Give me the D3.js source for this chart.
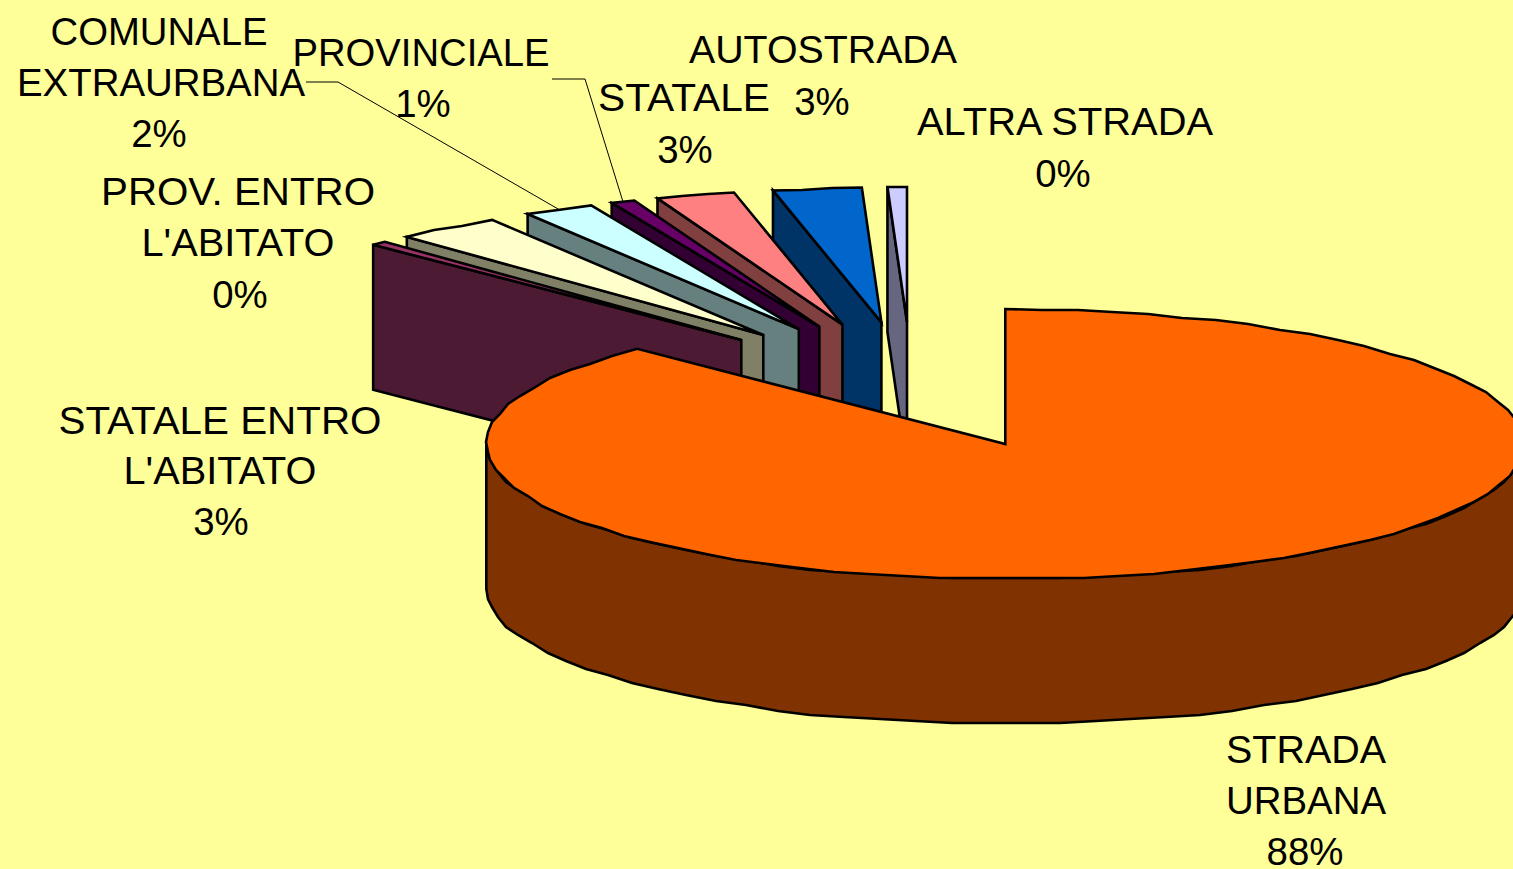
<!DOCTYPE html>
<html>
<head>
<meta charset="utf-8">
<script src="https://cdnjs.cloudflare.com/ajax/libs/d3/7.8.5/d3.min.js"></script>
<style>
  html, body { margin: 0; padding: 0; background: #FFFF99; overflow: hidden; }
  svg { display: block; }
  text { font-family: "Liberation Sans", Arial, sans-serif; font-size: 38.4px; fill: #000; text-anchor: middle; }
</style>
</head>
<body>
<svg id="chart"></svg>
<script>
// road types, clockwise from 12 o'clock
var categories = ['STRADA URBANA', "PROV. ENTRO L'ABITATO", "STATALE ENTRO L'ABITATO", 'COMUNALE EXTRAURBANA',
  'PROVINCIALE', 'STATALE', 'AUTOSTRADA', 'ALTRA STRADA']
var values = [87.45, 0.5, 3.3, 2.2, 0.75, 2.45, 2.75, 0.6]
var percentLabels = ['88%', '0%', '3%', '2%', '1%', '3%', '3%', '0%']
var topColors = ['#FF6600', '#993366', '#FFFFCC', '#CCFFFF', '#660066', '#FF8080', '#0066CC', '#CCCCFF']
var sideColors = ['#803300', '#4D1A33', '#808066', '#668080', '#330033', '#804040', '#003366', '#666680']

// label layout: one entry per line, [text, centre x, centre y, width or 0 for natural]
var labelLines = [
  ['COMUNALE', 159, 32, 217], ['EXTRAURBANA', 161, 83, 0], [percentLabels[3], 159, 134, 0],
  ['PROVINCIALE', 421, 53, 257], [percentLabels[4], 423, 104, 0],
  ['AUTOSTRADA', 823, 50, 268], [percentLabels[6], 822, 102, 0],
  ['STATALE', 684, 98, 172], [percentLabels[5], 685, 150, 0],
  ['ALTRA STRADA', 1065, 122, 296], [percentLabels[7], 1063, 174, 0],
  ['PROV. ENTRO', 238, 192, 274], ["L'ABITATO", 238, 243, 193], [percentLabels[1], 240, 295, 0],
  ['STATALE ENTRO', 220, 421, 323], ["L'ABITATO", 220, 471, 193], [percentLabels[2], 221, 522, 0],
  ['STRADA', 1306, 750, 160], ['URBANA', 1306, 801, 160], [percentLabels[0], 1305, 852, 0]
]
// leader lines: slice index plus the start and elbow of the line
var leaders = [
  {slice: 3, from: [306, 82], elbow: [338, 82]},
  {slice: 4, from: [552, 79], elbow: [585, 79]}
]

var W = 1513, H = 869
var cx = 911.6, cy = 385.4
var rx = 519, ry = 135, depth = 145
var explode = 0.47
var edgeGrid = 2 // the outline of the disc is slightly stepped, not smooth

var svg = d3.select('#chart').attr('width', W).attr('height', H)
svg.append('rect').attr('width', W).attr('height', H).attr('fill', '#FFFF99')

var px = d3.scaleLinear().domain([-1, 1]).range([cx - rx, cx + rx])
var py = d3.scaleLinear().domain([-1, 1]).range([cy - ry, cy + ry])

var pie = d3.pie().sort(null).value(function(d) { return d })
var slices = pie(values)
slices.forEach(function(s, i) {
  s.index = i
  s.mid = (s.startAngle + s.endAngle) / 2
  s.ox = explode * Math.sin(s.mid)
  s.oy = -explode * Math.cos(s.mid)
})

// unit circle position on the tilted disc, with the slice's explosion
function at(s, a, r) {
  return [px(s.ox + r * Math.sin(a)), py(s.oy - r * Math.cos(a))]
}
function down(p) { return [p[0], p[1] + depth] }

function arcPoints(s, a0, a1) {
  var n = Math.max(1, Math.ceil((a1 - a0) / (Math.PI / 45)))
  return d3.range(n + 1).map(function(i) {
    var p = at(s, a0 + (a1 - a0) * i / n, 1)
    if (i == 0 || i == n) return p
    return [Math.round(p[0] / edgeGrid) * edgeGrid, Math.round(p[1] / edgeGrid) * edgeGrid]
  })
}

var line = d3.line()
function poly(pts, fill) {
  svg.append('path')
    .attr('d', line(pts) + 'Z')
    .attr('fill', fill)
    .attr('stroke', '#000')
    .attr('stroke-width', 2.6)
    .attr('stroke-linejoin', 'miter')
}

// back to front: last slice first, main one on top of all
var order = slices.slice(1).reverse().concat([slices[0]])
order.forEach(function(s) {
  var apex = at(s, 0, 0)
  // radial side face, only when it looks at the viewer
  if (Math.sin(s.startAngle) < -1e-6) {
    var o = at(s, s.startAngle, 1)
    poly([apex, o, down(o), down(apex)], sideColors[s.index])
  }
  // outer wall on the front half
  var a0 = Math.max(s.startAngle, Math.PI / 2), a1 = Math.min(s.endAngle, Math.PI * 1.5)
  if (a1 > a0) {
    var arc = arcPoints(s, a0, a1)
    poly(arc.concat(arc.map(down).reverse()), sideColors[s.index])
  }
  poly([apex].concat(arcPoints(s, s.startAngle, s.endAngle)), topColors[s.index])
})

leaders.forEach(function(l) {
  var s = slices[l.slice]
  svg.append('path')
    .attr('d', line([l.from, l.elbow, at(s, s.mid, 1)]))
    .attr('fill', 'none')
    .attr('stroke', '#000')
    .attr('stroke-width', 1)
})

svg.selectAll('text.label').data(labelLines).enter().append('text')
  .attr('class', 'label')
  .attr('x', function(d) { return d[1] })
  .attr('y', function(d) { return d[2] + 13 })
  .attr('textLength', function(d) { return d[3] || null })
  .attr('lengthAdjust', function(d) { return d[3] ? 'spacingAndGlyphs' : null })
  .text(function(d) { return d[0] })
</script>
</body>
</html>
